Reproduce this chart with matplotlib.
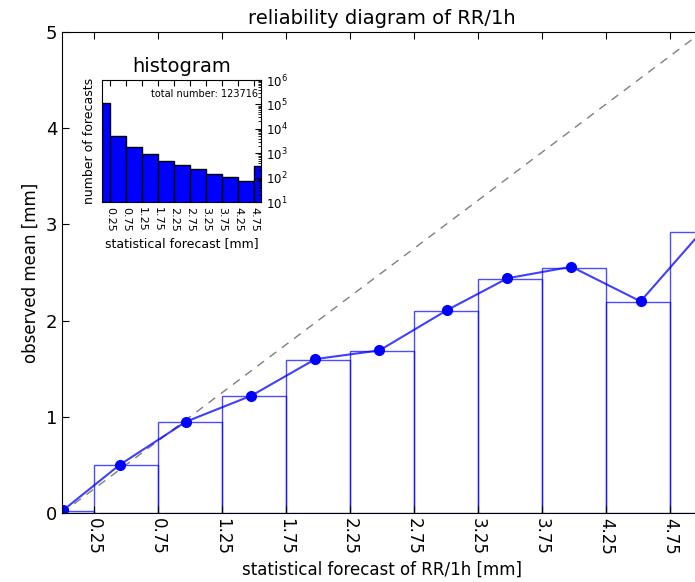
import numpy as np
import matplotlib
matplotlib.use('Agg')
import matplotlib.pyplot as plt

# bins of the statistical forecast [mm]
bin_left = [0.0, 0.25, 0.75, 1.25, 1.75, 2.25, 2.75, 3.25, 3.75, 4.25, 4.75]
bin_width = [0.25, 0.5, 0.5, 0.5, 0.5, 0.5, 0.5, 0.5, 0.5, 0.5, 0.5]
# observed mean per bin
obs_mean = [0.02, 0.50, 0.95, 1.22, 1.59, 1.68, 2.10, 2.43, 2.55, 2.19, 2.92]
# mean forecast per bin and observed mean at that point
fc_mean = [0.01, 0.45, 0.97, 1.48, 1.98, 2.48, 3.01, 3.48, 3.98, 4.52, 5.0]
pt_obs = [0.03, 0.50, 0.95, 1.22, 1.60, 1.69, 2.11, 2.44, 2.56, 2.20, 2.93]
# number of forecasts per bin
counts = [114507, 4900, 1750, 900, 490, 320, 230, 145, 110, 74, 290]
tick_pos = [0.25, 0.75, 1.25, 1.75, 2.25, 2.75, 3.25, 3.75, 4.25, 4.75]
tick_lab = ['0.25', '0.75', '1.25', '1.75', '2.25', '2.75', '3.25', '3.75', '4.25', '4.75']

plt.rcParams['xtick.direction'] = 'in'
plt.rcParams['ytick.direction'] = 'in'
plt.rcParams['xtick.top'] = True
plt.rcParams['ytick.right'] = True
plt.rcParams['xtick.major.size'] = 5
plt.rcParams['ytick.major.size'] = 5

fig = plt.figure(figsize=(6.95, 5.82), dpi=100)
# main axes runs a little past the right edge of the figure
ax = fig.add_axes([62/695, 69/582, 640/695, 481/582])

ax.bar(bin_left, obs_mean, width=bin_width, align='edge', fill=False,
       edgecolor='b', alpha=0.7, linewidth=1)
ax.plot([0, 5], [0, 5], '--', color='gray', linewidth=1, dashes=(6, 5))
ax.plot(fc_mean, pt_obs, '-', color='b', alpha=0.75, linewidth=1.5)
ax.plot(fc_mean, pt_obs, 'o', color='b', markersize=7)

ax.set_xlim(0, 5.0)
ax.set_ylim(0, 5)
ax.set_xticks(tick_pos)
ax.set_xticklabels(tick_lab, rotation=-90, fontsize=12)
ax.set_yticks([0, 1, 2, 3, 4, 5])
ax.tick_params(axis='y', labelsize=13)
ax.set_xlabel('statistical forecast of RR/1h [mm]', fontsize=12)
ax.set_ylabel('observed mean [mm]', fontsize=12)
ax.set_title('reliability diagram of RR/1h', fontsize=14)

# inset histogram
ins = fig.add_axes([102/695, 380/582, 159/695, 122/582])
ins.bar(bin_left, counts, width=bin_width, align='edge', color='b',
        edgecolor='k', linewidth=1)
ins.set_yscale('log')
ins.set_ylim(10, 1e6)
ins.set_xlim(0, 4.97)
ins.set_xticks(tick_pos)
ins.set_xticklabels(tick_lab, rotation=-90, fontsize=8)
ins.yaxis.tick_right()
ins.tick_params(axis='y', which='both', labelsize=8.5, left=False, right=True)
ins.tick_params(axis='both', which='major', length=4)
ins.tick_params(axis='both', which='minor', length=2)
ins.set_ylabel('number of forecasts', fontsize=9)
ins.yaxis.set_label_position('left')
ins.set_xlabel('statistical forecast [mm]', fontsize=9)
ins.set_title('histogram', fontsize=14)
ins.text(0.98, 0.93, 'total number: %d' % sum(counts), transform=ins.transAxes,
         ha='right', va='top', fontsize=7)

fig.savefig('out.png', dpi=100)
